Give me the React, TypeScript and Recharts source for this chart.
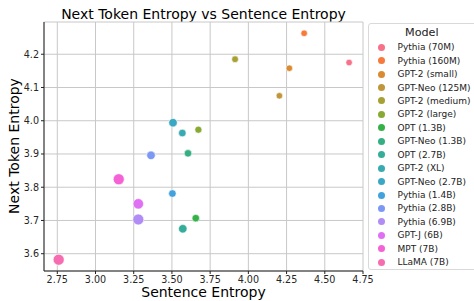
import React from 'react';
import { ScatterChart, Scatter, XAxis, YAxis, ZAxis, CartesianGrid, Legend } from 'recharts';

const models = [
  'Pythia (70M)', 'Pythia (160M)', 'GPT-2 (small)', 'GPT-Neo (125M)', 'GPT-2 (medium)',
  'GPT-2 (large)', 'OPT (1.3B)', 'GPT-Neo (1.3B)', 'OPT (2.7B)', 'GPT-2 (XL)',
  'GPT-Neo (2.7B)', 'Pythia (1.4B)', 'Pythia (2.8B)', 'Pythia (6.9B)', 'GPT-J (6B)',
  'MPT (7B)', 'LLaMA (7B)',
];
const sentenceEntropy = [
  4.659, 4.365, 4.268, 4.203, 3.913, 3.673, 3.656, 3.605, 3.571, 3.568,
  3.507, 3.503, 3.363, 3.28, 3.28, 3.152, 2.759,
];
const nextTokenEntropy = [
  4.175, 4.263, 4.158, 4.075, 4.185, 3.973, 3.707, 3.902, 3.675, 3.963,
  3.994, 3.781, 3.896, 3.703, 3.75, 3.824, 3.582,
];
// model size in millions of parameters
const paramsM = [70, 160, 124, 125, 355, 774, 1300, 1300, 2700, 1500, 2700, 1400, 2800, 6900, 6000, 7000, 7000];
const colors = [
  '#f77189', '#f67a3c', '#d98b32', '#c1963a', '#a7a033', '#88a934', '#34b147', '#35ae83',
  '#36ad9a', '#38aab0', '#3aa8c2', '#41a2dd', '#7b98f5', '#b08cf4', '#e070f3', '#f562d6', '#f56db0',
];
const xTicks = [2.75, 3.0, 3.25, 3.5, 3.75, 4.0, 4.25, 4.5, 4.75];
const yTicks = [3.6, 3.7, 3.8, 3.9, 4.0, 4.1, 4.2];

const FONT = 'DejaVu Sans';
const xDomain: [number, number] = [2.663, 4.75];
const yDomain: [number, number] = [3.548, 4.297];

const ModelLegend = () => (
  <div
    style={{
      width: 120,
      height: 247,
      border: '1px solid #d9d9d9',
      borderRadius: 3,
      background: '#fff',
      fontFamily: FONT,
      color: '#222',
      boxSizing: 'border-box',
    }}
  >
    <div style={{ height: 17, lineHeight: '18px', fontSize: 11.2, paddingLeft: 36 }}>Model</div>
    {models.map((m, i) => (
      <div key={m} style={{ height: 13.45, display: 'flex', alignItems: 'center', fontSize: 9 }}>
        <span
          style={{
            display: 'inline-block',
            width: 7,
            height: 7,
            borderRadius: '50%',
            background: colors[i],
            marginLeft: 8.5,
            marginRight: 13,
          }}
        />
        <span style={{ whiteSpace: 'nowrap' }}>{m}</span>
      </div>
    ))}
  </div>
);

const textStyle: React.CSSProperties = {
  position: 'absolute',
  fontSize: 14,
  lineHeight: 1,
  whiteSpace: 'nowrap',
  color: '#000',
};

const App: React.FC = () => {
  return (
    <div style={{ position: 'absolute', left: 0, top: 0, width: 474, height: 301, background: '#fff', fontFamily: FONT }}>
      <div style={{ ...textStyle, left: 203.5, top: 6.7, transform: 'translateX(-50%)' }}>
        Next Token Entropy vs Sentence Entropy
      </div>
      <div style={{ ...textStyle, left: 203.5, top: 285.4, transform: 'translateX(-50%)' }}>
        Sentence Entropy
      </div>
      <div style={{ ...textStyle, left: 14, top: 146, transform: 'translate(-50%, -50%) rotate(-90deg)' }}>
        Next Token Entropy
      </div>
      <div style={{ position: 'absolute', left: 0, top: 0 }}>
        <ScatterChart width={474} height={301} margin={{ top: 22, right: 111, bottom: 0, left: 0 }}>
          <CartesianGrid stroke="#c8c8c8" strokeWidth={1} />
          <XAxis
            type="number"
            dataKey="x"
            domain={xDomain}
            ticks={xTicks}
            allowDataOverflow
            height={30}
            tickSize={3}
            tickMargin={2}
            stroke="#222"
            tick={{ fontSize: 9.6, fill: '#262626', fontFamily: FONT }}
            tickFormatter={(v: number) => v.toFixed(2)}
          />
          <XAxis
            xAxisId="top"
            orientation="top"
            type="number"
            domain={xDomain}
            allowDataOverflow
            height={0}
            tick={false}
            tickLine={false}
            stroke="#222"
          />
          <YAxis
            type="number"
            dataKey="y"
            domain={yDomain}
            ticks={yTicks}
            allowDataOverflow
            width={44}
            tickSize={3}
            tickMargin={2}
            stroke="#222"
            tick={{ fontSize: 9.6, fill: '#262626', fontFamily: FONT }}
            tickFormatter={(v: number) => v.toFixed(1)}
          />
          <YAxis
            yAxisId="right"
            orientation="right"
            type="number"
            domain={yDomain}
            allowDataOverflow
            width={0}
            tick={false}
            tickLine={false}
            stroke="#222"
          />
          <ZAxis type="number" dataKey="z" domain={[70, 7000]} range={[33, 95]} />
          <Legend
            layout="horizontal"
            verticalAlign="middle"
            align="center"
            wrapperStyle={{ position: 'absolute', left: 368, top: 22.5, width: 120, height: 248 }}
            content={() => <ModelLegend />}
          />
          {models.map((m, i) => (
            <Scatter
              key={m}
              name={m}
              data={[{ x: sentenceEntropy[i], y: nextTokenEntropy[i], z: paramsM[i] }]}
              fill={colors[i]}
              stroke="#fff"
              strokeWidth={0.6}
              isAnimationActive={false}
            />
          ))}
        </ScatterChart>
      </div>
    </div>
  );
};

export default App;
